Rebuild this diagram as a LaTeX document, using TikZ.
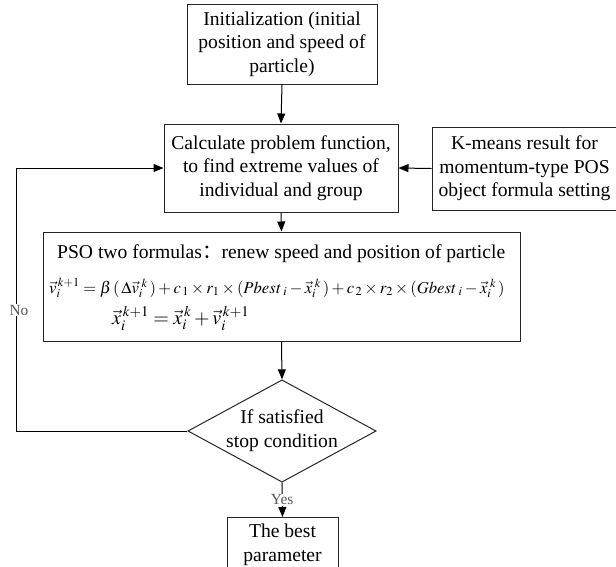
\documentclass[tikz,border=0pt]{standalone}
\usepackage{mathptmx}
\usepackage{fontspec}
\setmainfont{Liberation Serif}
\newfontfamily\cjk{Noto Sans CJK SC}
\usetikzlibrary{arrows.meta,shapes.geometric}
\tikzset{
  box/.style={draw=black!85, line width=1pt, rectangle, align=center, inner sep=0pt,
    font=\fontsize{19.6}{23.7}\selectfont},
  decision/.style={draw=black!85, line width=1pt, diamond, align=center, inner sep=0pt,
    font=\fontsize{19.6}{23.7}\selectfont},
  conn/.style={line width=1pt, -{Triangle[length=10pt,width=8pt]}},
  lbl/.style={fill=white, inner sep=1pt, text=black!65, font=\fontsize{15.5}{17}\selectfont},
}
\begin{document}
\begin{tikzpicture}[x=1pt,y=-1pt]
\useasboundingbox (0,0) rectangle (616,566);
\node[box, minimum width=190pt, minimum height=80pt] (init) at (282,44)
  {Initialization (initial\\position and speed of\\particle)};
\node[box, minimum width=234pt, minimum height=88pt] (calc) at (281,168)
  {Calculate problem function,\\to find extreme values of\\individual and group};
\node[box, minimum width=185pt, minimum height=83pt] (kmeans) at (524.5,168.5)
  {K-means result for\\momentum-type POS\\object formula setting};
\node[box, minimum width=477pt, minimum height=109pt] (pso) at (281.5,286.5) {};
\node[anchor=base west, inner sep=0pt, font=\fontsize{19.6}{23.7}\selectfont] (psot) at (57,258)
  {PSO two formulas{\cjk ：}renew speed and position of particle};
\node[anchor=west, inner sep=0pt, font=\fontsize{16.6}{19}\selectfont] (f1) at (49,288)
  {$\vec{v}_i^{\,k+1}=\beta\,(\,\Delta\vec{v}_i^{\,\,k}\,)+c_{\,1}\times r_1\times(\mathit{Pbest}_{\;i}-\vec{x}_i^{\,\,k}\,)+c_{\,2}\times r_2\times(\mathit{Gbest}_{\;i}-\vec{x}_i^{\,\,k}\,)$};
\node[anchor=west, inner sep=0pt, font=\fontsize{20}{22}\selectfont] (f2) at (112,318)
  {$\vec{x}_i^{\,k+1}=\vec{x}_i^{\,k}+\vec{v}_i^{\,k+1}$};
\node[decision, minimum width=188pt, minimum height=102pt, aspect=1.84] (dec) at (282,431)
  {If satisfied\\stop condition};
\node[box, minimum width=111pt, minimum height=54pt, anchor=north] (best) at (282.5,517)
  {The best\\parameter};
\coordinate (lc) at (16,431);
\draw[conn] (init.south) -- (calc.north);
\draw[conn] (kmeans.west) -- (calc.east);
\draw[conn] (calc.south) -- (pso.north);
\draw[conn] (pso.south) -- (dec.north);
\draw[conn] (dec.west) -- (lc) |- (calc.west);
\node[lbl] (no) at (19,310) {No};
\draw[conn] (dec.south) -- (best.north) node[lbl, pos=0.5] (yes) {Yes};
\end{tikzpicture}
\end{document}
